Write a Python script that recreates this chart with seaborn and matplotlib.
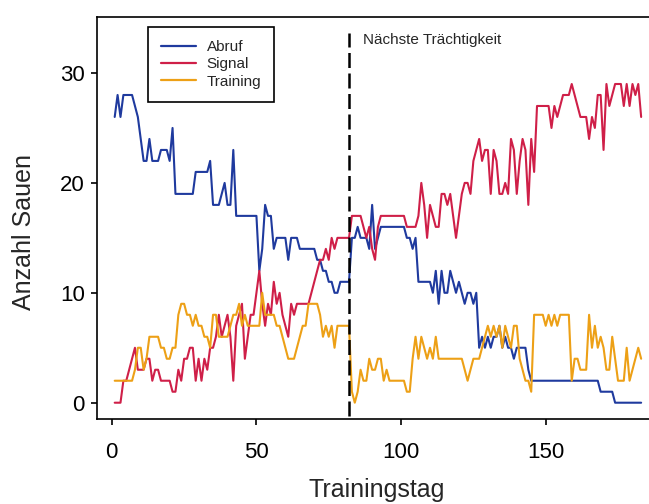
import numpy as np
import pandas as pd
import matplotlib
matplotlib.use("Agg")
import matplotlib.pyplot as plt
import seaborn as sns

# ----- data (one value per training day) -----
tage = list(range(1, 184))

abruf = [26, 28, 26, 28, 28, 28, 28, 27, 26, 24,
         22, 22, 24, 22, 22, 22, 23, 23, 23, 22,
         25, 19, 19, 19, 19, 19, 19, 19, 21, 21,
         21, 21, 21, 22, 18, 18, 18, 19, 20, 18,
         18, 23, 17, 17, 17, 17, 17, 17, 17, 17,
         12, 14, 18, 17, 17, 14, 15, 15, 15, 15,
         13, 15, 15, 15, 14, 14, 14, 14, 14, 14,
         13, 13, 12, 12, 11, 11, 10, 10, 11, 11,
         11, 11, 15, 15, 16, 15, 15, 15, 14, 18,
         14, 15, 16, 16, 16, 16, 16, 16, 16, 16,
         16, 15, 15, 14, 15, 11, 11, 11, 11, 11,
         10, 12, 9, 12, 10, 10, 12, 11, 10, 11,
         10, 9, 10, 10, 9, 10, 5, 6, 5, 6,
         5, 6, 6, 7, 5, 6, 5, 5, 4, 5,
         5, 5, 5, 3, 2, 2, 2, 2, 2, 2,
         2, 2, 2, 2, 2, 2, 2, 2, 2, 2,
         2, 2, 2, 2, 2, 2, 2, 2, 1, 1,
         1, 1, 1, 0, 0, 0, 0, 0, 0, 0,
         0, 0, 0]

signal = [0, 0, 0, 2, 2, 3, 4, 5, 3, 3,
          3, 4, 4, 2, 3, 3, 2, 2, 2, 2,
          1, 1, 3, 2, 4, 4, 5, 5, 2, 4,
          2, 4, 3, 5, 5, 6, 8, 6, 7, 8,
          6, 2, 7, 8, 9, 4, 6, 8, 8, 10,
          12, 9, 7, 9, 8, 11, 9, 10, 8, 7,
          6, 9, 8, 9, 9, 9, 9, 9, 10, 11,
          12, 13, 13, 14, 13, 15, 14, 15, 15, 15,
          15, 15, 17, 17, 17, 17, 16, 15, 16, 14,
          13, 16, 17, 17, 17, 17, 17, 17, 17, 17,
          17, 16, 16, 16, 16, 17, 20, 18, 15, 18,
          17, 16, 16, 19, 19, 18, 19, 17, 15, 17,
          19, 20, 20, 19, 22, 23, 24, 22, 23, 23,
          19, 23, 22, 19, 19, 20, 19, 24, 23, 19,
          22, 24, 23, 18, 24, 21, 27, 27, 27, 27,
          27, 25, 27, 26, 27, 28, 28, 28, 29, 28,
          27, 26, 26, 26, 24, 26, 25, 28, 28, 23,
          29, 27, 28, 29, 29, 29, 27, 29, 27, 29,
          28, 29, 26]

training = [2, 2, 2, 2, 2, 2, 2, 3, 5, 5,
            3, 4, 6, 6, 6, 6, 5, 5, 4, 4,
            5, 5, 8, 9, 9, 8, 8, 7, 8, 7,
            7, 6, 6, 5, 8, 8, 6, 6, 6, 6,
            7, 8, 8, 9, 7, 8, 7, 7, 7, 7,
            7, 10, 8, 8, 8, 8, 7, 7, 6, 5,
            4, 4, 4, 5, 6, 7, 7, 9, 9, 9,
            9, 8, 6, 7, 6, 7, 5, 7, 7, 7,
            7, 7, 1, 0, 1, 3, 2, 2, 4, 3,
            3, 4, 4, 2, 3, 2, 2, 2, 2, 2,
            2, 1, 1, 4, 6, 4, 6, 5, 4, 5,
            4, 6, 4, 4, 4, 4, 4, 4, 4, 4,
            4, 3, 2, 3, 4, 4, 4, 5, 6, 7,
            6, 7, 6, 7, 5, 7, 6, 5, 7, 7,
            4, 3, 2, 2, 1, 8, 8, 8, 8, 7,
            8, 7, 8, 7, 8, 8, 8, 8, 2, 4,
            4, 3, 3, 3, 8, 5, 7, 5, 6, 5,
            3, 3, 6, 4, 2, 2, 2, 5, 2, 3,
            4, 5, 4]

reihen = ["Abruf", "Signal", "Training"]
farben = ["#1f3a9e", "#cf1f48", "#eda016"]
traechtigkeit_tag = 82

df = pd.DataFrame({
    "tag": tage * 3,
    "anzahl": abruf + signal + training,
    "gruppe": [r for r in reihen for _ in tage],
})

# ----- style -----
sns.set_theme(style="ticks")
plt.rcParams.update({
    "font.family": ["Liberation Sans", "DejaVu Sans"],
    "axes.linewidth": 1.2,
    "xtick.major.width": 1.2,
    "ytick.major.width": 1.2,
    "xtick.major.size": 4.5,
    "ytick.major.size": 4.5,
    "xtick.color": "black",
    "ytick.color": "black",
    "axes.edgecolor": "black",
})

fig = plt.figure(figsize=(6.49, 5.04), dpi=100)
ax = fig.add_axes([0.1487, 0.1687, 0.8606, 0.797])

sns.lineplot(data=df, x="tag", y="anzahl", hue="gruppe", hue_order=reihen,
             palette=farben, linewidth=1.5, estimator=None, ax=ax)

# dashed marker for the next pregnancy
ax.plot([traechtigkeit_tag, traechtigkeit_tag], [-1.2, 33.6], color="black",
        linestyle=(0, (6, 2.2)), linewidth=1.8)
ax.text(traechtigkeit_tag + 5, 33.0, "Nächste Trächtigkeit", fontsize=11,
        va="center", ha="left")

ax.set_xlim(-5.29, 187.8)
ax.set_ylim(-1.48, 35.07)
ax.set_xticks([0, 50, 100, 150])
ax.set_yticks([0, 10, 20, 30])
ax.tick_params(axis="x", labelsize=16, pad=12)
ax.tick_params(axis="y", labelsize=16, pad=4)

ax.set_xlabel("Trainingstag", fontsize=18)
ax.set_ylabel("Anzahl Sauen", fontsize=18)
ax.xaxis.set_label_coords(0.502, -0.147)
ax.yaxis.set_label_coords(-0.108, 0.466)

handles, labels = ax.get_legend_handles_labels()
leg = ax.legend(handles, labels, loc="upper left", bbox_to_anchor=(0.092, 0.976),
                borderaxespad=0, fontsize=11, handlelength=2.3, handletextpad=0.7,
                labelspacing=0.22, borderpad=0.85, fancybox=False, framealpha=1,
                edgecolor="black")
leg.get_frame().set_linewidth(1.2)
for line in leg.get_lines():
    line.set_linewidth(1.6)

fig.savefig("out.png", dpi=100)
